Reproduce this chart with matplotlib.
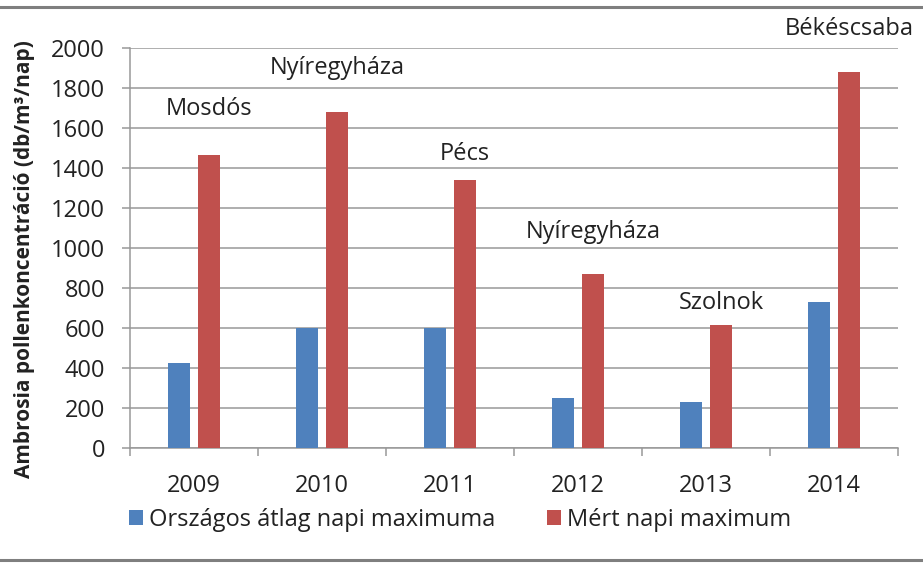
import matplotlib
matplotlib.use("Agg")
import matplotlib.pyplot as plt
from matplotlib.lines import Line2D
from matplotlib.patches import Patch
import numpy as np

plt.rcParams['font.family'] = ['Open Sans', 'DejaVu Sans']

years = ['2009', '2010', '2011', '2012', '2013', '2014']
orszagos = [425, 600, 600, 250, 230, 730]
mert = [1465, 1680, 1340, 870, 615, 1880]
cities = ['Mosdós', 'Nyíregyháza', 'Pécs', 'Nyíregyháza', 'Szolnok', 'Békéscsaba']
city_label_y = [1695, 1900, 1472, 1078, 725, 2095]
yticks = [0, 200, 400, 600, 800, 1000, 1200, 1400, 1600, 1800, 2000]

blue = '#4F81BD'
red = '#C0504D'
grid_c = '#989898'
txt_c = '#222222'
fs = 17

fig = plt.figure(figsize=(9.23, 5.63), dpi=100)
ax = fig.add_axes([130/923, 1-448/563, (898-130)/923, 400/563])

x = np.arange(len(years))
w = 0.176
off = 0.118
ax.bar(x - off, orszagos, width=w, color=blue, zorder=3, label='Országos átlag napi maximuma')
ax.bar(x + off, mert, width=w, color=red, zorder=3, label='Mért napi maximum')

for i, (c, yy) in enumerate(zip(cities, city_label_y)):
    ax.text(x[i] + off, yy, c, ha='center', va='center', fontsize=fs,
            color=txt_c, clip_on=False)

ax.set_xlim(-0.5, len(years) - 0.5)
ax.set_ylim(0, 2000)
ax.set_yticks(yticks)
ax.set_yticklabels([str(v) for v in yticks], fontsize=fs, color=txt_c)
ax.yaxis.grid(True, color=grid_c, linewidth=1.1, zorder=0)
ax.set_axisbelow(True)

ax.set_xticks(x)
ax.set_xticklabels(years, fontsize=fs, color=txt_c)
ax.set_xticks(np.arange(-0.5, len(years)), minor=True)
ax.tick_params(axis='x', which='major', length=0, pad=19)
ax.tick_params(axis='x', which='minor', length=6, width=1.1, color=grid_c, direction='out')
ax.tick_params(axis='y', length=6, width=1.1, color=grid_c, pad=12)

for s in ['top', 'right']:
    ax.spines[s].set_visible(False)
for s in ['left', 'bottom']:
    ax.spines[s].set_color(grid_c)
    ax.spines[s].set_linewidth(1.1)

fig.text(25/923, 1-259/563, 'Ambrosia pollenkoncentráció (db/m³/nap)', rotation=90,
         ha='center', va='center', fontsize=15, fontweight='bold', color=txt_c)

handles = [Patch(facecolor=blue), Patch(facecolor=red)]
fig.legend(handles, ['Országos átlag napi maximuma', 'Mért napi maximum'],
           loc='center', bbox_to_anchor=(460/923, 1-520/563), ncol=2, frameon=False,
           fontsize=fs, handlelength=0.6, handleheight=0.6, handletextpad=0.25,
           columnspacing=2.2, labelcolor=txt_c)

fig.add_artist(Line2D([0, 1], [1-7/563, 1-7/563], transform=fig.transFigure,
                      color='#7f7f7f', linewidth=2.2))
fig.add_artist(Line2D([0, 1], [1-560/563, 1-560/563], transform=fig.transFigure,
                      color='#7f7f7f', linewidth=2.2))

fig.savefig('out.png', dpi=100)
